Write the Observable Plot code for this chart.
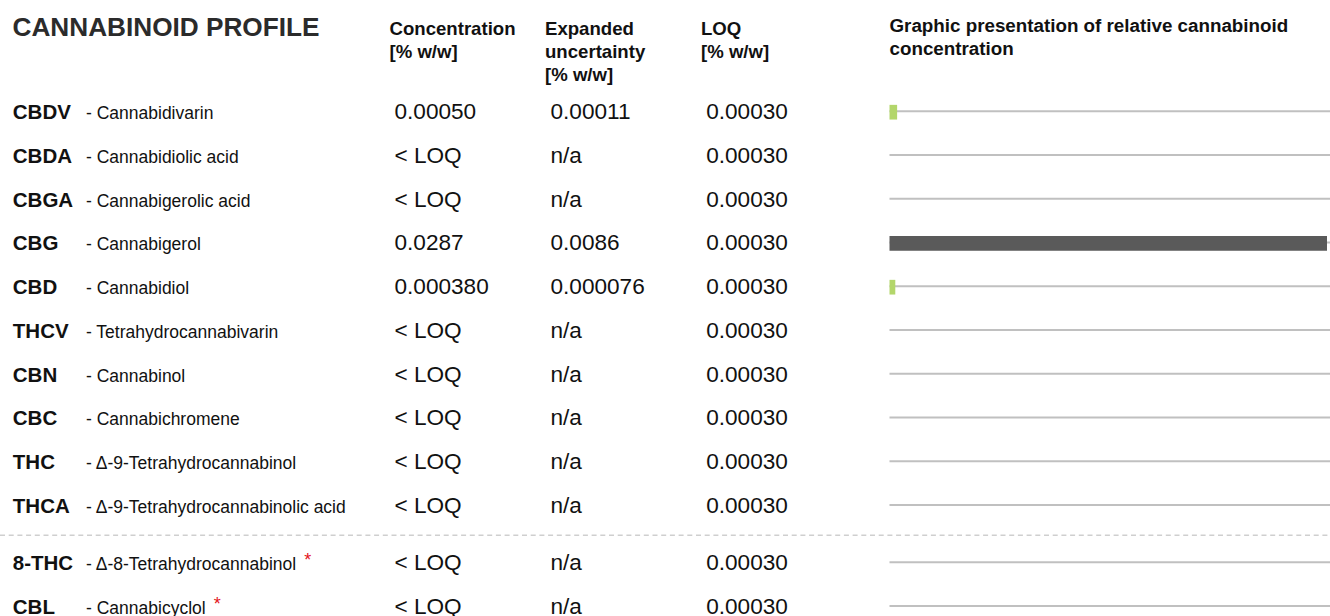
<!DOCTYPE html>
<html>
<head>
<meta charset="utf-8">
<script src="https://cdn.jsdelivr.net/npm/d3@7"></script>
<script src="https://cdn.jsdelivr.net/npm/@observablehq/plot@0.6"></script>
<style>
  html, body { margin: 0; padding: 0; background: #ffffff; }
  #chart { width: 1330px; height: 616px; overflow: hidden; }
</style>
</head>
<body>
<div id="chart"></div>
<script>
// ---- data ----
const codes = ["CBDV", "CBDA", "CBGA", "CBG", "CBD", "THCV", "CBN", "CBC", "THC", "THCA", "8-THC", "CBL"];
const names = ["Cannabidivarin", "Cannabidiolic acid", "Cannabigerolic acid", "Cannabigerol", "Cannabidiol",
  "Tetrahydrocannabivarin", "Cannabinol", "Cannabichromene", "Δ-9-Tetrahydrocannabinol",
  "Δ-9-Tetrahydrocannabinolic acid", "Δ-8-Tetrahydrocannabinol", "Cannabicyclol"];
const concentration = ["0.00050", "< LOQ", "< LOQ", "0.0287", "0.000380", "< LOQ", "< LOQ", "< LOQ", "< LOQ", "< LOQ", "< LOQ", "< LOQ"];
const uncertainty = ["0.00011", "n/a", "n/a", "0.0086", "0.000076", "n/a", "n/a", "n/a", "n/a", "n/a", "n/a", "n/a"];
const loq = ["0.00030", "0.00030", "0.00030", "0.00030", "0.00030", "0.00030", "0.00030", "0.00030", "0.00030", "0.00030", "0.00030", "0.00030"];
const starred = [false, false, false, false, false, false, false, false, false, false, true, true];
const mainCount = 10; // rows above the dashed separator

const title = "CANNABINOID PROFILE";
const headers = ["Concentration\n[% w/w]", "Expanded\nuncertainty\n[% w/w]", "LOQ\n[% w/w]"];
const graphicHeader = "Graphic presentation of relative cannabinoid\nconcentration";

// ---- layout ----
const extraGap = 0.31;
const sepPos = 9.69;
const rows = codes.map((code, i) => ({
  code, name: names[i], conc: concentration[i], unc: uncertainty[i], loq: loq[i], star: starred[i],
  value: concentration[i].startsWith("<") ? null : +concentration[i],
  pos: i < mainCount ? i : i + extraGap
}));
const maxValue = d3.max(rows, d => d.value);
const FONT = "'Liberation Sans', Arial, Helvetica, sans-serif";
const INK = "#111111";
const headFs = 18.6, headLh = 1.23;
const headDy = 31.5 - 0.71 * headFs;
const rowDy = 8;
const valFs = 22.6;

const plot = Plot.plot({
  width: 1330,
  height: 616,
  margin: 0,
  style: { fontFamily: FONT, background: "#ffffff", color: INK },
  x: { domain: [0, maxValue], range: [889.5, 1327], axis: null },
  y: { domain: [0, 11.31], range: [110.7, 605.5], axis: null },
  color: { type: "identity" },
  marks: [
    // title & headers
    Plot.text([title], { text: d => d, frameAnchor: "top-left", textAnchor: "start", lineAnchor: "bottom", dx: 12, dy: 35, fontSize: 26.2, fontWeight: "bold", fill: "#2b2b2b" }),
    Plot.text([headers[0]], { text: d => d, frameAnchor: "top-left", textAnchor: "start", lineAnchor: "top", lineHeight: headLh, dx: 389, dy: headDy, fontSize: headFs, fontWeight: "bold", fill: INK }),
    Plot.text([headers[1]], { text: d => d, frameAnchor: "top-left", textAnchor: "start", lineAnchor: "top", lineHeight: headLh, dx: 544.5, dy: headDy, fontSize: headFs, fontWeight: "bold", fill: INK }),
    Plot.text([headers[2]], { text: d => d, frameAnchor: "top-left", textAnchor: "start", lineAnchor: "top", lineHeight: headLh, dx: 700.5, dy: headDy, fontSize: headFs, fontWeight: "bold", fill: INK }),
    Plot.text([graphicHeader], { text: d => d, frameAnchor: "top-left", textAnchor: "start", lineAnchor: "top", lineHeight: headLh, dx: 889, dy: 28.5 - 0.71 * headFs, fontSize: 18.8, fontWeight: "bold", fill: INK }),

    // separator
    Plot.ruleY([sepPos], { y: d => d, stroke: "#cfcfcf", strokeWidth: 1.5, strokeDasharray: "5,3.7" }),

    // row base lines and bars
    Plot.ruleY(rows, { y: "pos", x1: 0, x2: maxValue, stroke: "#c0c0c0", strokeWidth: 2, insetRight: -3 }),
    Plot.ruleY(rows.filter(d => d.value != null), {
      y: "pos", x1: 0, x2: "value", dy: 1, strokeWidth: 14.7,
      stroke: d => d.value === maxValue ? "#5a5a5a" : "#b3d66b"
    }),

    // row texts
    Plot.text(rows, { y: "pos", text: "code", frameAnchor: "left", textAnchor: "start", lineAnchor: "bottom", dx: 12.3, dy: rowDy, fontSize: 20.5, fontWeight: "bold", fill: INK }),
    Plot.text(rows, { y: "pos", text: d => "- " + d.name, frameAnchor: "left", textAnchor: "start", lineAnchor: "bottom", dx: 85.5, dy: rowDy, fontSize: 17.5, fill: INK }),
    Plot.text(rows, { y: "pos", text: "conc", frameAnchor: "left", textAnchor: "start", lineAnchor: "bottom", dx: 394, dy: rowDy, fontSize: valFs, fill: INK }),
    Plot.text(rows, { y: "pos", text: "unc", frameAnchor: "left", textAnchor: "start", lineAnchor: "bottom", dx: 550, dy: rowDy, fontSize: valFs, fill: INK }),
    Plot.text(rows, { y: "pos", text: "loq", frameAnchor: "left", textAnchor: "start", lineAnchor: "bottom", dx: 705.7, dy: rowDy, fontSize: valFs, fill: INK })
  ]
});

// red asterisks after flagged names
const starLabels = new Set(rows.filter(d => d.star).map(d => "- " + d.name));
d3.select(plot).selectAll("text")
  .filter(function () { return starLabels.has(this.textContent); })
  .append("tspan")
  .attr("fill", "#e3141b")
  .attr("font-size", 18)
  .attr("dx", 8)
  .attr("dy", -4)
  .text("*");

document.getElementById("chart").appendChild(plot);
</script>
</body>
</html>
